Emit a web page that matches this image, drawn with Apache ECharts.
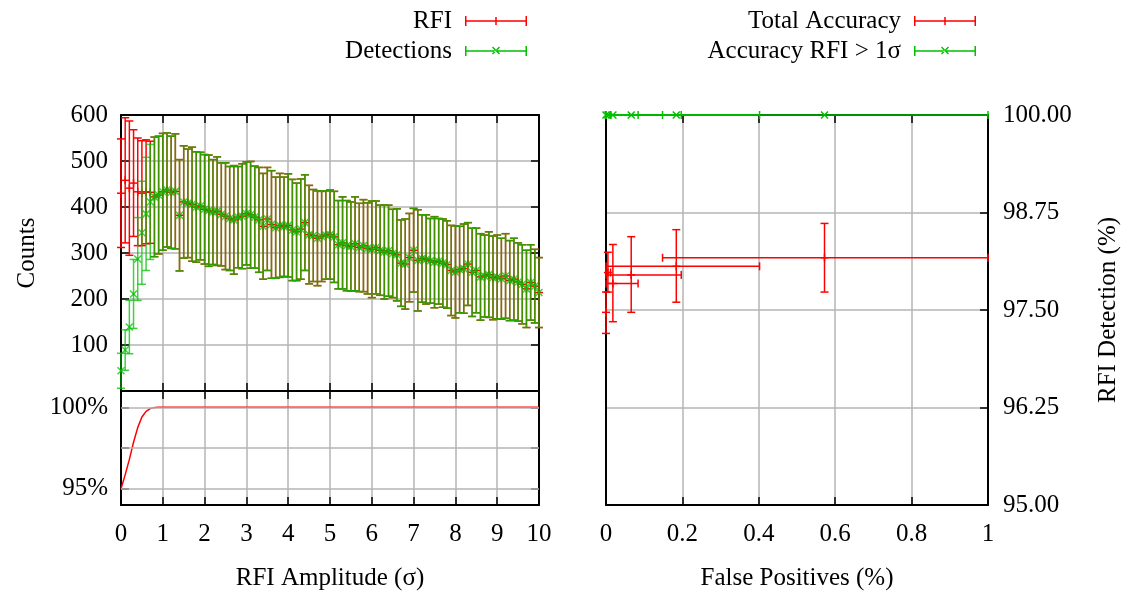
<!DOCTYPE html>
<html>
<head>
<meta charset="utf-8">
<script src="https://cdn.jsdelivr.net/npm/echarts@6.0.0/dist/echarts.min.js"></script>
<style>
html, body { margin: 0; padding: 0; background: #fff; }
#chart { width: 1126px; height: 599px; }
</style>
</head>
<body>
<div id="chart"></div>
<script>
/*
 * data
 */
// RFI amplitude (sigma) for the counts panel
var amp = [0, 0.1, 0.2, 0.3, 0.4, 0.5, 0.6, 0.7, 0.8, 0.9,
	1, 1.1, 1.2, 1.3, 1.4, 1.5, 1.6, 1.7, 1.8, 1.9,
	2, 2.1, 2.2, 2.3, 2.4, 2.5, 2.6, 2.7, 2.8, 2.9,
	3, 3.1, 3.2, 3.3, 3.4, 3.5, 3.6, 3.7, 3.8, 3.9,
	4, 4.1, 4.2, 4.3, 4.4, 4.5, 4.6, 4.7, 4.8, 4.9,
	5, 5.1, 5.2, 5.3, 5.4, 5.5, 5.6, 5.7, 5.8, 5.9,
	6, 6.1, 6.2, 6.3, 6.4, 6.5, 6.6, 6.7, 6.8, 6.9,
	7, 7.1, 7.2, 7.3, 7.4, 7.5, 7.6, 7.7, 7.8, 7.9,
	8, 8.1, 8.2, 8.3, 8.4, 8.5, 8.6, 8.7, 8.8, 8.9,
	9, 9.1, 9.2, 9.3, 9.4, 9.5, 9.6, 9.7, 9.8, 9.9,
	10];

var rfiY = [430, 458, 441, 452, 433, 430, 433, 432, 422, 426,
	433, 437, 432, 434, 382, 411, 408, 406, 400, 402,
	395, 392, 389, 391, 384, 380, 375, 372, 378, 380,
	386, 383, 378, 372, 358, 374, 362, 355, 360, 357,
	360, 350, 346, 352, 366, 340, 338, 332, 336, 339,
	340, 335, 318, 322, 316, 314, 320, 312, 316, 310,
	308, 312, 306, 302, 305, 299, 296, 278, 276, 290,
	306, 284, 288, 286, 283, 280, 282, 278, 275, 262,
	259, 264, 266, 276, 258, 262, 248, 250, 253, 246,
	248, 244, 250, 240, 243, 237, 232, 222, 236, 228,
	214];

var rfiErr = [118, 136, 146, 116, 117, 114, 113, 111, 130, 128,
	127, 124, 122, 125, 121, 122, 118, 124, 120, 117,
	119, 121, 114, 118, 112, 116, 113, 118, 110, 114,
	112, 116, 111, 114, 115, 112, 117, 110, 113, 108,
	112, 110, 106, 109, 104, 107, 100, 103, 98, 96,
	97, 99, 96, 100, 98, 97, 102, 96, 100, 99,
	105, 101, 98, 102, 99, 96, 100, 94, 98, 96,
	91, 110, 95, 97, 92, 99, 93, 96, 95, 98,
	100, 94, 97, 90, 96, 92, 94, 89, 93, 91,
	91, 88, 92, 87, 89, 85, 86, 84, 82, 80,
	76];

var detY = [44, 89, 139, 211, 287, 344, 385, 411, 422, 426,
	433, 437, 432, 434, 382, 411, 408, 406, 400, 402,
	395, 392, 389, 391, 384, 380, 375, 372, 378, 380,
	386, 383, 378, 372, 358, 374, 362, 355, 360, 357,
	360, 350, 346, 352, 366, 340, 338, 332, 336, 339,
	340, 335, 318, 322, 316, 314, 320, 312, 316, 310,
	308, 312, 306, 302, 305, 299, 296, 278, 276, 290,
	306, 284, 288, 286, 283, 280, 282, 278, 275, 262,
	259, 264, 266, 276, 258, 262, 248, 250, 253, 246,
	248, 244, 250, 240, 243, 237, 232, 222, 236, 228,
	214];

var detErr = [38, 44, 58, 75, 90, 112, 123, 125, 130, 128,
	127, 124, 122, 125, 121, 122, 118, 124, 120, 117,
	119, 121, 114, 118, 112, 116, 113, 118, 110, 114,
	112, 116, 111, 114, 115, 112, 117, 110, 113, 108,
	112, 110, 106, 109, 104, 107, 100, 103, 98, 96,
	97, 99, 96, 100, 98, 97, 102, 96, 100, 99,
	105, 101, 98, 102, 99, 96, 100, 94, 98, 96,
	91, 110, 95, 97, 92, 99, 93, 96, 95, 98,
	100, 94, 97, 90, 96, 92, 94, 89, 93, 91,
	91, 88, 92, 87, 89, 85, 86, 84, 82, 80,
	76];

// detection efficiency panel (%)
var effX = [0, 0.1, 0.2, 0.3, 0.4, 0.5, 0.6, 0.7, 0.8, 0.9, 1, 10];
var effY = [95.0, 95.85, 96.8, 97.85, 98.75, 99.4, 99.75, 99.92, 99.98, 100, 100, 100];

// right panel: false positives (%) vs detection accuracy (%)
var fpX = [0, 0.005, 0.018, 0.066, 0.184, 0.572];
var fpLo = [0, 0, 0, 0, 0, 0.148];
var fpHi = [0, 0.012, 0.084, 0.197, 0.402, 1.0];
var accTot = [97.47, 97.98, 97.84, 97.95, 98.06, 98.17];
var accLo = [97.20, 97.73, 97.35, 97.47, 97.60, 97.73];
var accHi = [97.73, 98.24, 98.34, 98.44, 98.53, 98.61];
var accSig = [100, 100, 100, 100, 100, 100];

var ampTicks = { min: 0, max: 10, interval: 1 };
var countTicks = { min: 0, max: 600, interval: 100 };
var effRange = { min: 94, max: 101 };
var effTicks = [95, 97.5, 100];
var effLabels = [95, 100];
var fpTicks = { min: 0, max: 1, interval: 0.2 };
var accTicks = { min: 95, max: 100, interval: 1.25 };

/*
 * styles
 */
var FONT = 'Liberation Serif';
var RED = '#ff0000';
var GREEN = '#00c000';
var GRID_GREY = '#b4b4b4';
var txt = { fontFamily: FONT, fontSize: 25, color: '#000' };
var axLine = { show: true, onZero: false, lineStyle: { color: '#000', width: 2 } };
var tick = { show: true, inside: true, length: 8, lineStyle: { color: '#000', width: 1.5 } };
var grid = { show: true, showMinLine: false, showMaxLine: false, lineStyle: { color: GRID_GREY, width: 1.5 } };

var plusIcon = 'path://M0,4.25h62v1.5h-62z M0,0h1.5v10h-1.5z M60.5,0h1.5v10h-1.5z M30.25,1h1.5v8h-1.5z';
var crossIcon = 'path://M0,4.25h62v1.5h-62z M0,0h1.5v10h-1.5z M60.5,0h1.5v10h-1.5z M27,1.5L28,0.5L35,7.5L34,8.5z M35,1.5L34,0.5L27,7.5L28,8.5z';

function marker(kind, p, st) {
	if (kind == 'plus') {
		return [
			{ type: 'line', shape: { x1: p[0] - 4, y1: p[1], x2: p[0] + 4, y2: p[1] }, style: st },
			{ type: 'line', shape: { x1: p[0], y1: p[1] - 4, x2: p[0], y2: p[1] + 4 }, style: st }
		];
	}
	return [
		{ type: 'line', shape: { x1: p[0] - 3.5, y1: p[1] - 3.5, x2: p[0] + 3.5, y2: p[1] + 3.5 }, style: st },
		{ type: 'line', shape: { x1: p[0] - 3.5, y1: p[1] + 3.5, x2: p[0] + 3.5, y2: p[1] - 3.5 }, style: st }
	];
}

// y error bars: value = [x, y, dy]
function yErrBar(color, kind, alpha) {
	return function (params, api) {
		var x = api.value(0), y = api.value(1), e = api.value(2);
		var p = api.coord([x, y]);
		var hi = api.coord([x, y + e]);
		var lo = api.coord([x, y - e]);
		var st = { stroke: color, lineWidth: 1.5, opacity: alpha };
		var kids = [
			{ type: 'line', shape: { x1: p[0], y1: hi[1], x2: p[0], y2: lo[1] }, style: st },
			{ type: 'line', shape: { x1: p[0] - 4, y1: hi[1], x2: p[0] + 4, y2: hi[1] }, style: st },
			{ type: 'line', shape: { x1: p[0] - 4, y1: lo[1], x2: p[0] + 4, y2: lo[1] }, style: st }
		];
		return { type: 'group', children: kids.concat(marker(kind, p, st)) };
	};
}

// x and y error bars: value = [x, y, xlo, xhi, ylo, yhi]
function xyErrBar(color, kind) {
	return function (params, api) {
		var x = api.value(0), y = api.value(1);
		var p = api.coord([x, y]);
		var l = api.coord([api.value(2), y]);
		var r = api.coord([api.value(3), y]);
		var st = { stroke: color, lineWidth: 1.5 };
		var kids = [
			{ type: 'line', shape: { x1: l[0], y1: p[1], x2: r[0], y2: p[1] }, style: st },
			{ type: 'line', shape: { x1: l[0], y1: p[1] - 4, x2: l[0], y2: p[1] + 4 }, style: st },
			{ type: 'line', shape: { x1: r[0], y1: p[1] - 4, x2: r[0], y2: p[1] + 4 }, style: st }
		];
		if (api.value(5) > api.value(4)) {
			var t = api.coord([x, api.value(5)]);
			var b = api.coord([x, api.value(4)]);
			kids.push({ type: 'line', shape: { x1: p[0], y1: t[1], x2: p[0], y2: b[1] }, style: st });
			kids.push({ type: 'line', shape: { x1: p[0] - 4, y1: t[1], x2: p[0] + 4, y2: t[1] }, style: st });
			kids.push({ type: 'line', shape: { x1: p[0] - 4, y1: b[1], x2: p[0] + 4, y2: b[1] }, style: st });
		}
		return { type: 'group', children: kids.concat(marker(kind, p, st)) };
	};
}

var rfiData = [], detData = [], effData = [], totData = [], sigData = [], effGrid = [];
for (var i = 0; i < amp.length; i++) {
	rfiData.push([amp[i], rfiY[i], rfiErr[i]]);
	detData.push([amp[i], detY[i], detErr[i]]);
}
for (var i = 0; i < effX.length; i++) {
	effData.push([effX[i], effY[i]]);
}
for (var i = 0; i < effTicks.length; i++) {
	effGrid.push({ yAxis: effTicks[i] });
}
for (var i = 0; i < fpX.length; i++) {
	totData.push([fpX[i], accTot[i], fpLo[i], fpHi[i], accLo[i], accHi[i]]);
	sigData.push([fpX[i], accSig[i], fpLo[i], fpHi[i], accSig[i], accSig[i]]);
}

function legendAt(name, icon, right, top) {
	return {
		data: [{ name: name, icon: icon }],
		right: right,
		top: top,
		padding: 0,
		align: 'right',
		itemWidth: 62,
		itemHeight: 10,
		selectedMode: false,
		textStyle: { fontFamily: FONT, fontSize: 25, color: '#000', lineHeight: 28, padding: [0, 8, 0, 0] }
	};
}

var myChart = echarts.init(document.getElementById('chart'));
var option = {
	animation: false,
	backgroundColor: '#fff',
	legend: [
		legendAt('RFI', plusIcon, 599, 7),
		legendAt('Detections', crossIcon, 599, 37),
		legendAt('Total Accuracy', plusIcon, 150, 7),
		legendAt('Accuracy RFI > 1σ', crossIcon, 150, 37)
	],
	grid: [
		{ left: 121, top: 115, width: 418, height: 276 },
		{ left: 121, top: 391, width: 418, height: 114 },
		{ left: 606, top: 115, width: 382, height: 390 }
	],
	xAxis: [
		{ type: 'value', gridIndex: 0, position: 'bottom', min: ampTicks.min, max: ampTicks.max, interval: ampTicks.interval,
			axisLine: axLine, axisTick: tick, axisLabel: { show: false }, splitLine: grid },
		{ type: 'value', gridIndex: 0, position: 'top', min: ampTicks.min, max: ampTicks.max, interval: ampTicks.interval,
			axisLine: axLine, axisTick: tick, axisLabel: { show: false }, splitLine: { show: false } },
		{ type: 'value', gridIndex: 1, position: 'bottom', min: ampTicks.min, max: ampTicks.max, interval: ampTicks.interval,
			axisLine: axLine, axisTick: tick, splitLine: grid,
			axisLabel: { margin: 17, fontFamily: FONT, fontSize: 25, color: '#000' },
			name: 'RFI Amplitude (σ)', nameLocation: 'middle', nameGap: 61, nameTextStyle: txt },
		{ type: 'value', gridIndex: 1, position: 'top', min: ampTicks.min, max: ampTicks.max, interval: ampTicks.interval,
			axisLine: axLine, axisTick: tick, axisLabel: { show: false }, splitLine: { show: false } },
		{ type: 'value', gridIndex: 2, position: 'bottom', min: fpTicks.min, max: fpTicks.max, interval: fpTicks.interval,
			axisLine: axLine, axisTick: tick, splitLine: grid,
			axisLabel: { margin: 17, fontFamily: FONT, fontSize: 25, color: '#000' },
			name: 'False Positives (%)', nameLocation: 'middle', nameGap: 61, nameTextStyle: txt },
		{ type: 'value', gridIndex: 2, position: 'top', min: fpTicks.min, max: fpTicks.max, interval: fpTicks.interval,
			axisLine: axLine, axisTick: tick, axisLabel: { show: false }, splitLine: { show: false } }
	],
	yAxis: [
		{ type: 'value', gridIndex: 0, position: 'left', min: countTicks.min, max: countTicks.max, interval: countTicks.interval,
			axisLine: axLine, axisTick: tick, splitLine: grid,
			axisLabel: { margin: 13, showMinLabel: false, fontFamily: FONT, fontSize: 25, color: '#000' },
			name: 'Counts', nameLocation: 'middle', nameGap: 81, nameTextStyle: txt },
		{ type: 'value', gridIndex: 0, position: 'right', min: countTicks.min, max: countTicks.max, interval: countTicks.interval,
			axisLine: axLine, axisTick: tick, axisLabel: { show: false }, splitLine: { show: false } },
		{ type: 'value', gridIndex: 1, position: 'left', min: effRange.min, max: effRange.max,
			axisLine: axLine, axisTick: { show: true, inside: true, length: 8, customValues: effTicks, lineStyle: { color: '#000', width: 1.5 } },
			splitLine: { show: false },
			axisLabel: { margin: 13, customValues: effLabels, fontFamily: FONT, fontSize: 25, color: '#000',
				formatter: function (v) { return v + '%'; } } },
		{ type: 'value', gridIndex: 1, position: 'right', min: effRange.min, max: effRange.max,
			axisLine: axLine, axisTick: { show: true, inside: true, length: 8, customValues: effTicks, lineStyle: { color: '#000', width: 1.5 } },
			axisLabel: { show: false }, splitLine: { show: false } },
		{ type: 'value', gridIndex: 2, position: 'right', min: accTicks.min, max: accTicks.max, interval: accTicks.interval,
			axisLine: axLine, axisTick: tick, splitLine: grid,
			axisLabel: { margin: 15, fontFamily: FONT, fontSize: 25, color: '#000',
				formatter: function (v) { return v.toFixed(2); } },
			name: 'RFI Detection (%)', nameLocation: 'middle', nameGap: 108, nameTextStyle: txt },
		{ type: 'value', gridIndex: 2, position: 'left', min: accTicks.min, max: accTicks.max, interval: accTicks.interval,
			axisLine: axLine, axisTick: { show: false }, axisLabel: { show: false }, splitLine: { show: false } }
	],
	series: [
		{
			name: 'RFI', type: 'custom', xAxisIndex: 0, yAxisIndex: 0,
			itemStyle: { color: RED }, encode: { x: 0, y: 1 },
			renderItem: yErrBar(RED, 'plus', 1), data: rfiData
		},
		{
			name: 'Detections', type: 'custom', xAxisIndex: 0, yAxisIndex: 0,
			itemStyle: { color: GREEN }, encode: { x: 0, y: 1 },
			renderItem: yErrBar(GREEN, 'cross', 0.75), data: detData
		},
		{
			// horizontal grid lines of the efficiency panel (95, 97.5, 100)
			name: 'effGrid', type: 'line', xAxisIndex: 2, yAxisIndex: 2, z: 1,
			data: [], silent: true,
			markLine: {
				silent: true, symbol: 'none', label: { show: false },
				lineStyle: { color: GRID_GREY, width: 1.5, type: 'solid' },
				data: effGrid
			}
		},
		{
			name: 'efficiency', type: 'line', xAxisIndex: 2, yAxisIndex: 2, z: 3,
			showSymbol: false, lineStyle: { color: RED, width: 1.5 }, itemStyle: { color: RED },
			data: effData
		},
		{
			name: 'Total Accuracy', type: 'custom', xAxisIndex: 4, yAxisIndex: 4,
			itemStyle: { color: RED }, encode: { x: 0, y: 1 }, clip: false,
			renderItem: xyErrBar(RED, 'plus'), data: totData
		},
		{
			name: 'Accuracy RFI > 1σ', type: 'custom', xAxisIndex: 4, yAxisIndex: 4,
			itemStyle: { color: GREEN }, encode: { x: 0, y: 1 }, clip: false,
			renderItem: xyErrBar(GREEN, 'cross'), data: sigData
		}
	]
};
myChart.setOption(option);
</script>
</body>
</html>
